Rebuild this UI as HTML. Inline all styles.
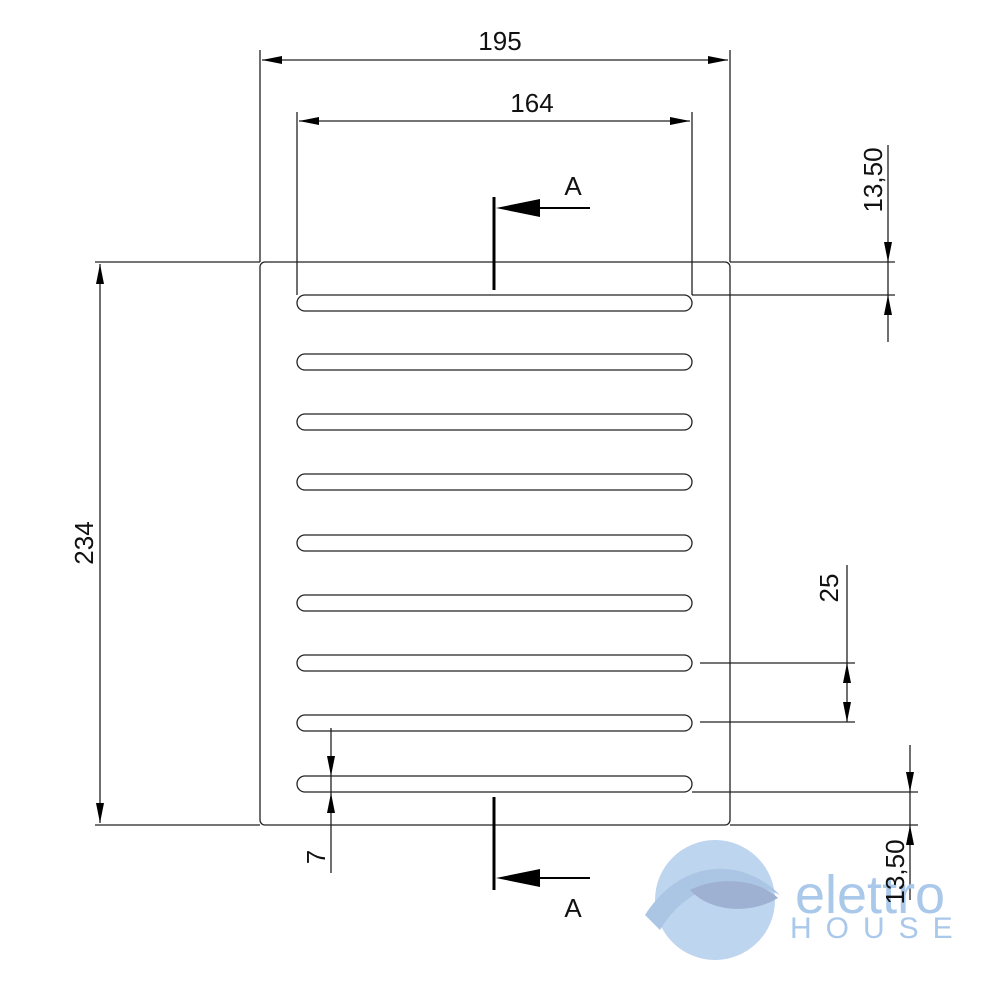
<!DOCTYPE html>
<html><head><meta charset="utf-8"><style>html,body{margin:0;padding:0;background:#fff}svg{display:block}</style></head>
<body>
<svg width="1000" height="1000" viewBox="0 0 1000 1000" xmlns="http://www.w3.org/2000/svg" font-family="Liberation Sans, sans-serif">
<g stroke="#222" stroke-width="1.3" fill="none">
<rect x="260" y="262" width="470" height="563" rx="5"/>
<rect x="297" y="295" width="395" height="16" rx="8"/>
<rect x="297" y="354" width="395" height="16" rx="8"/>
<rect x="297" y="414" width="395" height="16" rx="8"/>
<rect x="297" y="474" width="395" height="16" rx="8"/>
<rect x="297" y="535" width="395" height="16" rx="8"/>
<rect x="297" y="595" width="395" height="16" rx="8"/>
<rect x="297" y="655" width="395" height="16" rx="8"/>
<rect x="297" y="715" width="395" height="16" rx="8"/>
<rect x="297" y="776" width="395" height="16" rx="8"/>
<line x1="260" y1="50" x2="260" y2="262"/><line x1="730" y1="50" x2="730" y2="262"/>
<line x1="262" y1="60" x2="728" y2="60"/>
<line x1="297" y1="112" x2="297" y2="295"/><line x1="692" y1="112" x2="692" y2="295"/>
<line x1="299" y1="121" x2="690" y2="121"/>
<line x1="95" y1="262" x2="260" y2="262"/><line x1="95" y1="825" x2="260" y2="825"/>
<line x1="100" y1="264" x2="100" y2="823"/>
<line x1="730" y1="262" x2="895" y2="262"/><line x1="692" y1="295" x2="895" y2="295"/>
<line x1="888" y1="145" x2="888" y2="342"/>
<line x1="700" y1="663" x2="855" y2="663"/><line x1="700" y1="722" x2="855" y2="722"/>
<line x1="847" y1="565" x2="847" y2="722"/>
<line x1="331" y1="728" x2="331" y2="873"/>
<line x1="692" y1="792" x2="918" y2="792"/><line x1="730" y1="825" x2="918" y2="825"/>
<line x1="910" y1="745" x2="910" y2="900"/>
</g>
<g fill="#000">
<path d="M262,60 l20,-4 v8z M728,60 l-20,-4 v8z"/>
<path d="M299,121 l20,-4 v8z M690,121 l-20,-4 v8z"/>
<path d="M100,264 l-4,20 h8z M100,823 l-4,-20 h8z"/>
<path d="M888,262 l-4,-20 h8z M888,295 l-4,20 h8z"/>
<path d="M847,663 l-4,20 h8z M847,722 l-4,-20 h8z"/>
<path d="M331,776 l-4,-20 h8z M331,793 l-4,20 h8z"/>
<path d="M910,792 l-4,-20 h8z M910,825 l-4,20 h8z"/>
</g>
<g stroke="#000" stroke-width="3" fill="none">
<line x1="494" y1="197" x2="494" y2="290"/>
<line x1="494" y1="797" x2="494" y2="890"/>
</g>
<g stroke="#000" stroke-width="2">
<line x1="590" y1="208" x2="520" y2="208"/><line x1="590" y1="878" x2="520" y2="878"/>
</g>
<path d="M496,208 L540,199 L540,217z M496,878 L540,869 L540,887z" fill="#000"/>
<g opacity="0.75">
<circle cx="715" cy="900" r="60" fill="#a9c8ea"/>
<path d="M645,915 C680,860 740,855 780,895 C740,875 690,880 660,930z" fill="#8fb2dc"/>
<path d="M690,890 C720,875 760,880 778,898 C750,915 710,912 690,890z" fill="#7f98c4"/>
</g>
<text x="795" y="913" font-size="54" fill="#a9c8ea">elettro</text>
<text x="790" y="938" font-size="30" fill="#a9c8ea" letter-spacing="14">HOUSE</text>
<g font-size="26" fill="#111">
<text x="500" y="50" text-anchor="middle">195</text>
<text x="532" y="112" text-anchor="middle">164</text>
<text x="573" y="195" text-anchor="middle">A</text>
<text x="573" y="917" text-anchor="middle">A</text>
<text transform="translate(93,543) rotate(-90)" text-anchor="middle">234</text>
<text transform="translate(882,180) rotate(-90)" text-anchor="middle">13,50</text>
<text transform="translate(838,588) rotate(-90)" text-anchor="middle">25</text>
<text transform="translate(325,857) rotate(-90)" text-anchor="middle">7</text>
<text transform="translate(904,872) rotate(-90)" text-anchor="middle">13,50</text>
</g>
</svg>
</body></html>
